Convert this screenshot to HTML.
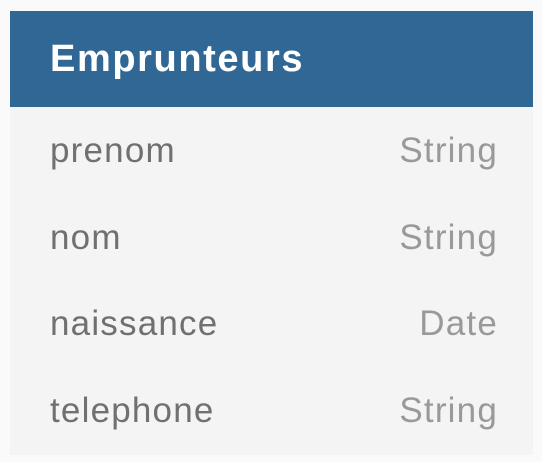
<!DOCTYPE html>
<html><head><style>
html,body{margin:0;padding:0;width:542px;height:462px;background:#fafafa;overflow:hidden;font-family:"Liberation Sans","DejaVu Sans",sans-serif}
.box{position:absolute;left:10px;top:11px;width:523px;height:444px;background:#f4f4f4}
.hd{position:absolute;left:0;top:0;width:523px;height:96px;background:#306794}
.hd span{position:absolute;left:40px;top:27px;color:#fff;font-weight:bold;font-size:38px;letter-spacing:1.6px}
.r{position:absolute;left:40px;width:448px;font-size:35px;line-height:40px;color:#707070;letter-spacing:1.2px}
.r b{font-weight:normal;float:right;color:#999;letter-spacing:1.2px}
</style></head><body>
<div class="box">
<div class="hd"><span>Emprunteurs</span></div>
<div class="r" style="top:120px">prenom<b>String</b></div>
<div class="r" style="top:207px">nom<b>String</b></div>
<div class="r" style="top:293px">naissance<b>Date</b></div>
<div class="r" style="top:380px">telephone<b>String</b></div>
</div>
</body></html>
